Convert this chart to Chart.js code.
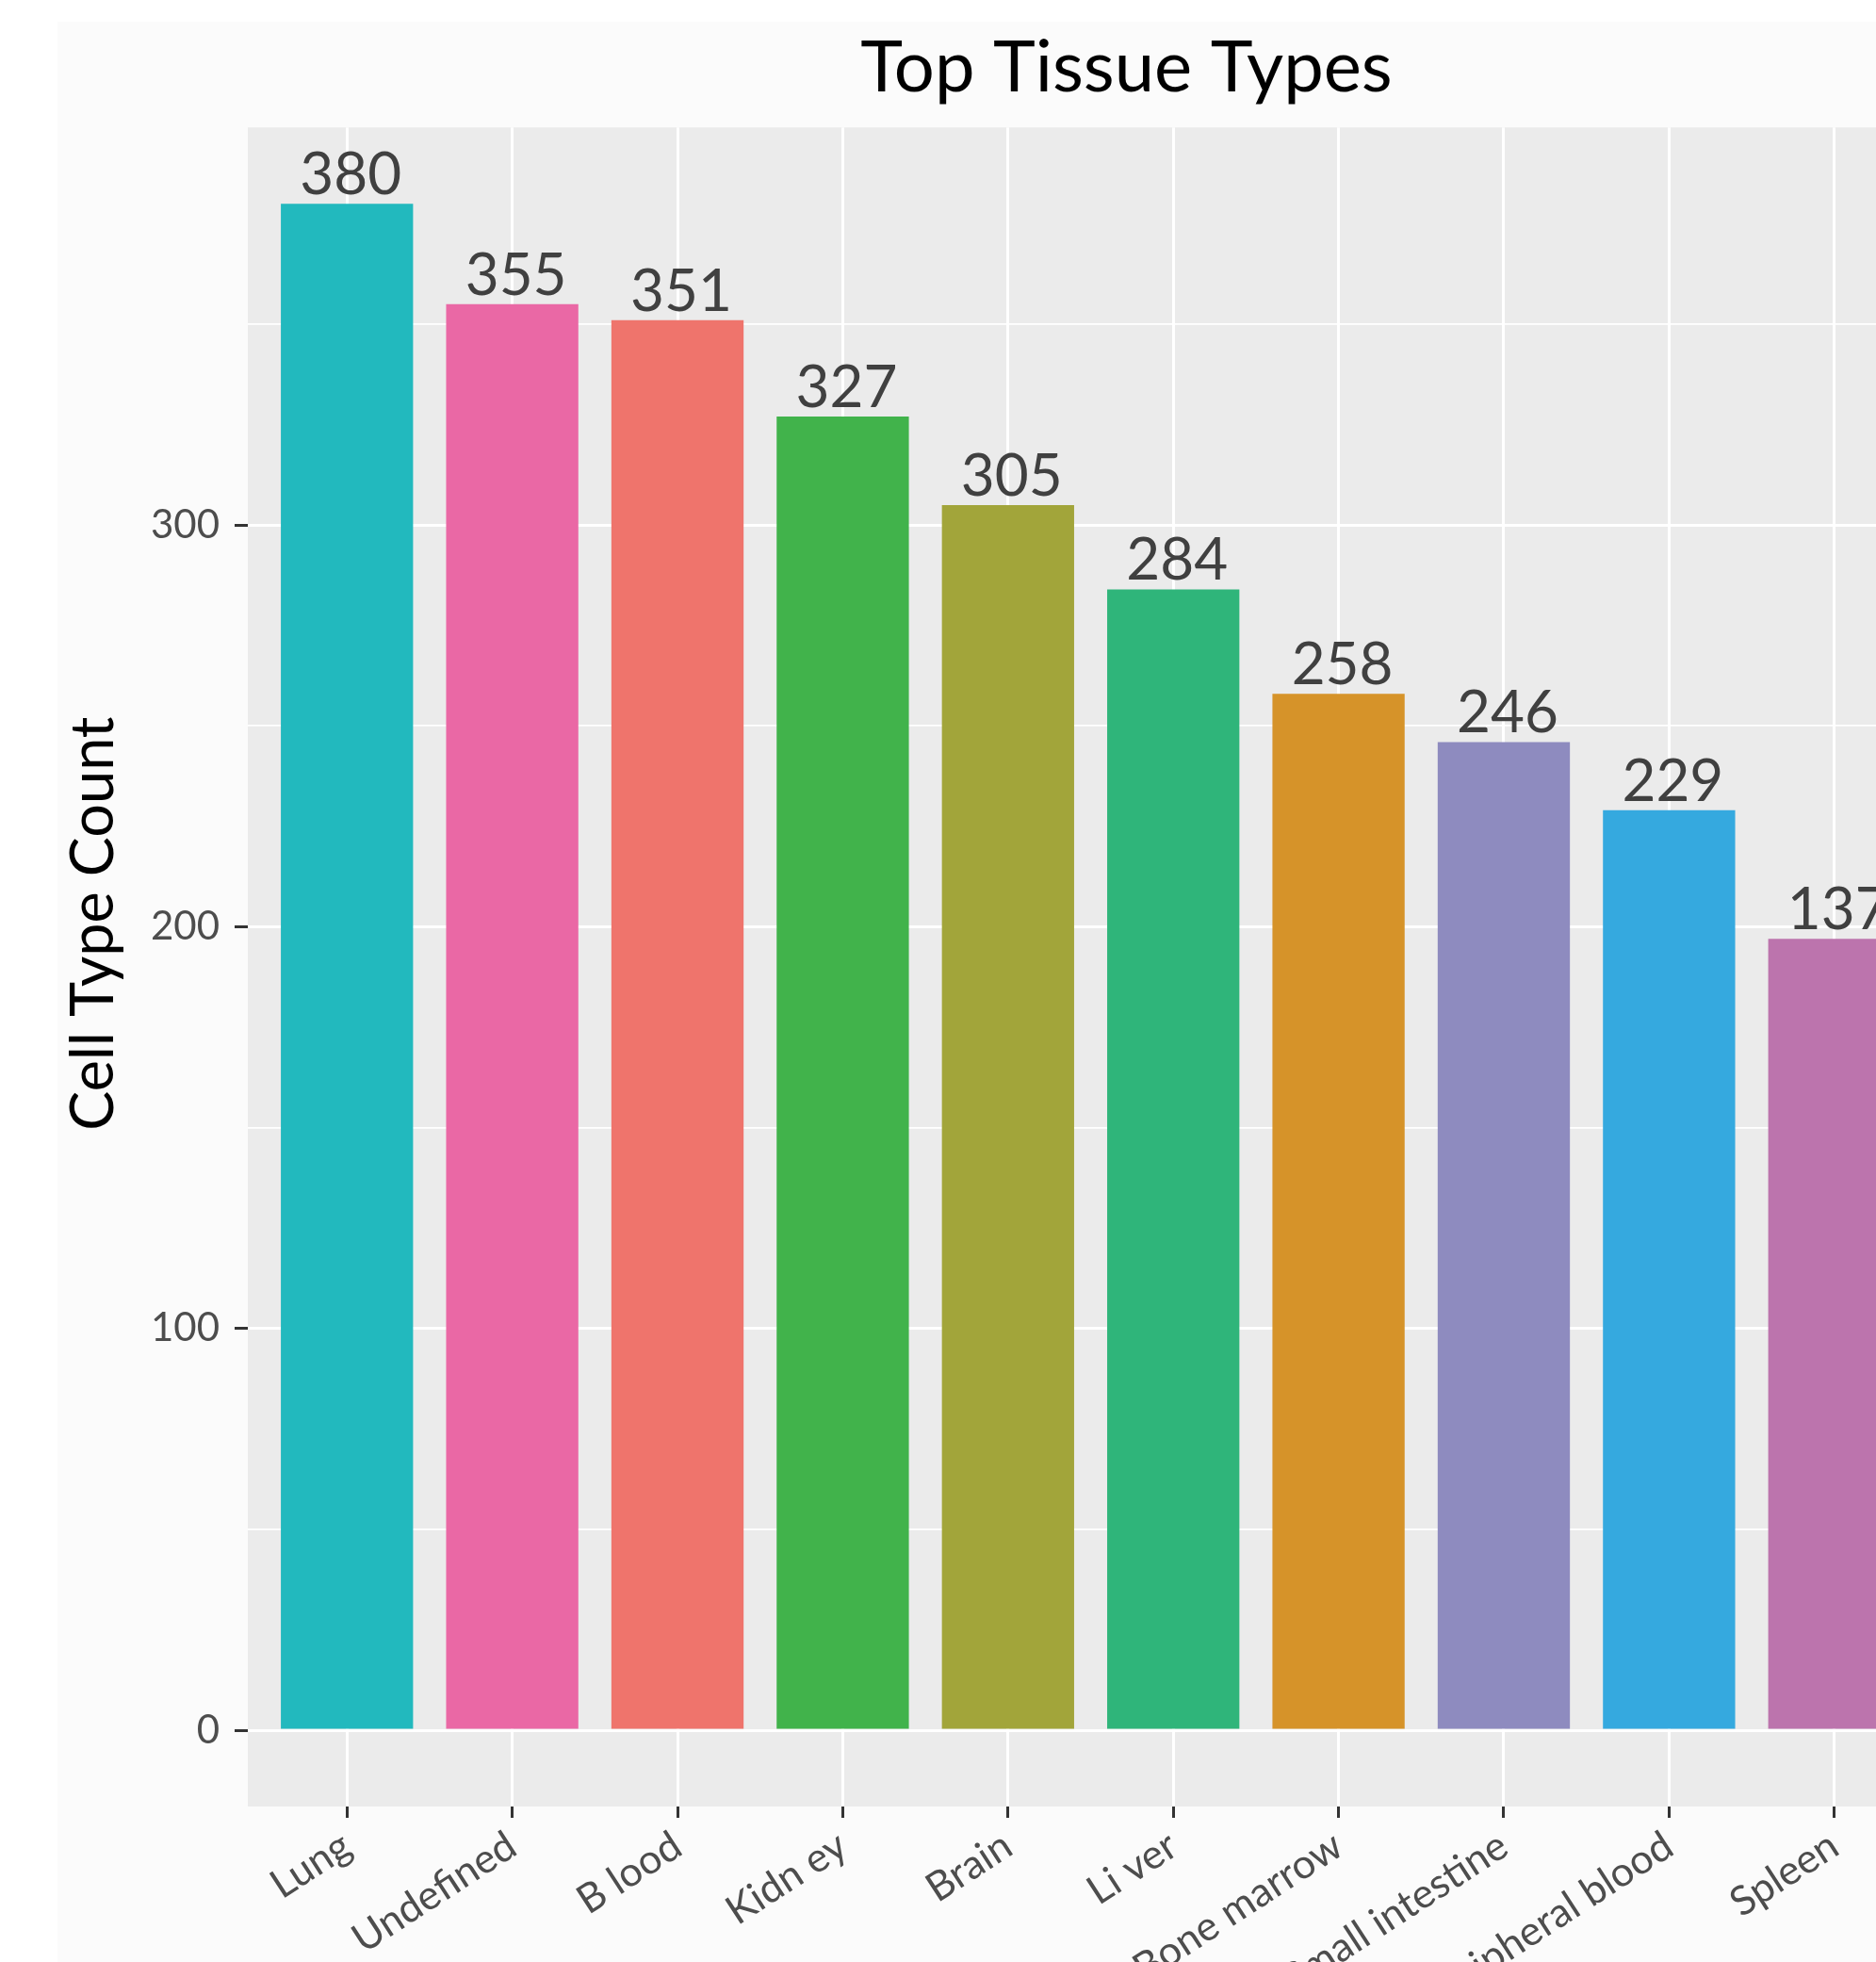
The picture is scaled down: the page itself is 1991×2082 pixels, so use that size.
<!DOCTYPE html>
<html>
<head>
<meta charset="utf-8">
<script src="https://cdn.jsdelivr.net/npm/chart.js@4.4.1/dist/chart.umd.min.js"></script>
<style>
  html, body { margin: 0; padding: 0; background: #fff; overflow: hidden; width: 1991px; height: 2082px; }
  #wrap { position: absolute; left: 61px; top: 23px; width: 2000px; height: 2059px; background: #fbfbfb; }
</style>
</head>
<body>
<div id="wrap"><canvas id="tissue-chart" width="2000" height="2059"></canvas></div>
<script>
// data
const tissues = ['Lung', 'Undefined', 'B lood', 'Kidn ey', 'Brain', 'Li ver', 'Bone marrow', 'Small intestine', 'Peripheral blood', 'Spleen'];
const cellTypeCounts = [380, 355, 351, 327, 305, 284, 258, 246, 229, 197];
const countLabels = ['380', '355', '351', '327', '305', '284', '258', '246', '229', '137'];
const barColors = ['#22b9be', '#ea68a5', '#ef746c', '#41b34b', '#a2a53a', '#2fb57a', '#d69329', '#8e8bbf', '#35a9df', '#bc74ad'];
const yTicks = [0, 50, 100, 150, 200, 250, 300, 350];
const yTitle = 'Cell Type Count';

const FONT = 'Lato';

// grey panel behind the grid
const panelBg = {
    id: 'panelBg',
    beforeDraw(chart) {
        const a = chart.chartArea;
        const ctx = chart.ctx;
        ctx.save();
        ctx.fillStyle = '#ebebeb';
        ctx.fillRect(a.left, a.top, a.right - a.left, a.bottom - a.top);
        ctx.restore();
    }
};

// title sits a little right of the panel centre in the original
const titleNudge = {
    id: 'titleNudge',
    afterLayout(chart) {
        if (chart.titleBlock) {
            chart.titleBlock.left += 38;
            chart.titleBlock.right += 38;
        }
    }
};

// y axis title, a bit above the panel centre like the original
const yAxisTitle = {
    id: 'yAxisTitle',
    afterDraw(chart) {
        const a = chart.chartArea;
        const ctx = chart.ctx;
        ctx.save();
        ctx.translate(chart.scales.y.left + 39, (a.top + a.bottom) / 2 - 46);
        ctx.rotate(-Math.PI / 2);
        ctx.font = '63px ' + FONT;
        ctx.fillStyle = '#000';
        ctx.textAlign = 'center';
        ctx.textBaseline = 'middle';
        ctx.fillText(yTitle, 0, 0);
        ctx.restore();
    }
};

// numbers on top of the bars
const valueLabels = {
    id: 'valueLabels',
    afterDatasetsDraw(chart) {
        const ctx = chart.ctx;
        const meta = chart.getDatasetMeta(0);
        ctx.save();
        ctx.font = '62px ' + FONT;
        ctx.fillStyle = '#404040';
        ctx.textAlign = 'center';
        ctx.textBaseline = 'alphabetic';
        meta.data.forEach(function(bar, i) {
            ctx.fillText(countLabels[i], bar.x + 4, bar.y - 10);
        });
        ctx.restore();
    }
};

const ctx = document.getElementById('tissue-chart').getContext('2d');
const chart = new Chart(ctx, {
    type: 'bar',
    data: {
        datasets: [{
            data: cellTypeCounts.map((v, i) => ({ x: i, y: v })),
            backgroundColor: barColors,
            borderWidth: 0,
            categoryPercentage: 0.8,
            barPercentage: 1
        }]
    },
    options: {
        responsive: false,
        animation: false,
        devicePixelRatio: 1,
        layout: { padding: { left: 0, right: 9, top: 0, bottom: 0 } },
        plugins: {
            legend: { display: false },
            tooltip: { enabled: false },
            title: {
                display: true,
                text: 'Top Tissue Types',
                fullSize: false,
                color: '#000',
                font: { family: FONT, size: 76, weight: 'normal' },
                padding: { top: 4, bottom: 17 }
            }
        },
        scales: {
            x: {
                type: 'linear',
                min: -0.6,
                max: 9.6,
                offset: false,
                afterBuildTicks: axis => { axis.ticks = tissues.map((t, i) => ({ value: i })); },
                afterFit: axis => { axis.height = 165; },
                border: { display: false },
                grid: {
                    offset: false,
                    color: '#ffffff',
                    lineWidth: 3,
                    drawTicks: true,
                    tickLength: 12,
                    tickWidth: 3,
                    tickColor: '#333333'
                },
                ticks: {
                    autoSkip: false,
                    maxRotation: 33,
                    minRotation: 33,
                    padding: 4,
                    color: '#4d4d4d',
                    font: { family: FONT, size: 43 },
                    callback: v => tissues[v]
                }
            },
            y: {
                min: -19,
                max: 399,
                afterBuildTicks: axis => { axis.ticks = yTicks.map(v => ({ value: v })); },
                afterFit: axis => { axis.width = 202; },
                border: { display: false },
                grid: {
                    color: '#ffffff',
                    lineWidth: c => (c.tick && c.tick.value % 100 === 0) ? 3 : 1.8,
                    drawTicks: true,
                    tickLength: 14,
                    tickWidth: 3,
                    tickColor: c => (c.tick && c.tick.value % 100 === 0) ? '#333333' : 'rgba(0,0,0,0)'
                },
                ticks: {
                    padding: 16,
                    color: '#4d4d4d',
                    font: { family: FONT, size: 42 },
                    callback: v => (v % 100 === 0 ? String(v) : '')
                }
            }
        }
    },
    plugins: [panelBg, titleNudge, yAxisTitle, valueLabels]
});
</script>
</body>
</html>
